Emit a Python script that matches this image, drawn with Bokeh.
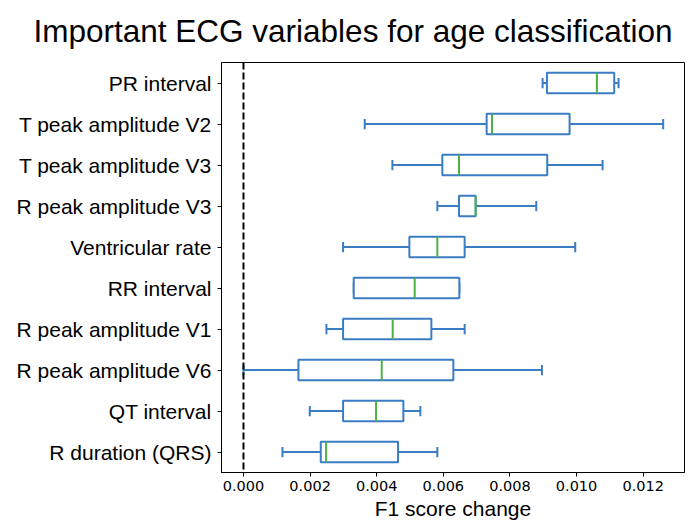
from bokeh.plotting import figure
from bokeh.models import ColumnDataSource, FactorRange, Range1d, Span, FixedTicker, NumeralTickFormatter
from bokeh.transform import dodge
from bokeh.embed import file_html
from bokeh.resources import INLINE

# Data (top to bottom)
categories = ["PR interval", "T peak amplitude V2", "T peak amplitude V3", "R peak amplitude V3",
              "Ventricular rate", "RR interval", "R peak amplitude V1", "R peak amplitude V6",
              "QT interval", "R duration (QRS)"]
whisker_low = [0.00898, 0.00364, 0.00447, 0.00582, 0.00299, 0.00331, 0.00249, 0.00000, 0.00199, 0.00117]
q1 = [0.00911, 0.00730, 0.00597, 0.00647, 0.00498, 0.00331, 0.00299, 0.00165, 0.00299, 0.00232]
median = [0.01061, 0.00746, 0.00647, 0.00697, 0.00582, 0.00514, 0.00448, 0.00415, 0.00398, 0.00248]
q3 = [0.01113, 0.00979, 0.00912, 0.00697, 0.00664, 0.00648, 0.00564, 0.00630, 0.00480, 0.00464]
whisker_high = [0.01126, 0.01260, 0.01078, 0.00879, 0.00996, 0.00648, 0.00664, 0.00896, 0.00531, 0.00582]
x_ticks = [0.000, 0.002, 0.004, 0.006, 0.008, 0.010, 0.012]
title_text = "Important ECG variables for age classification"

BLUE = "#3b7dc4"
GREEN = "#4db14a"
LABEL_FONT = "Liberation Sans"

src = ColumnDataSource(dict(cat=categories, lo=whisker_low, q1=q1, med=median, q3=q3, hi=whisker_high))

p = figure(width=700, height=528, output_backend="svg", toolbar_location=None,
           y_range=FactorRange(factors=list(reversed(categories))),
           x_range=Range1d(-0.00066, 0.01324),
           min_border_left=221, min_border_right=16, min_border_top=62, min_border_bottom=56)

p.title.text = title_text
p.title.text_font = LABEL_FONT
p.title.text_font_size = "31.5px"
p.title.text_font_style = "normal"
p.title.text_color = "black"
p.title.align = "left"
p.title.vertical_align = "top"
p.title.offset = -188
p.title.standoff = 24

p.background_fill_color = "white"
p.border_fill_color = "white"
p.outline_line_color = "black"
p.outline_line_width = 1
p.xgrid.grid_line_color = None
p.ygrid.grid_line_color = None

# zero reference line
p.add_layout(Span(location=0, dimension="height", line_color="black", line_width=2, line_dash="7 3"))

# whiskers
p.segment(x0="lo", x1="q1", y0="cat", y1="cat", source=src, line_color=BLUE, line_width=2)
p.segment(x0="q3", x1="hi", y0="cat", y1="cat", source=src, line_color=BLUE, line_width=2)
# caps
p.segment(x0="lo", x1="lo", y0=dodge("cat", -0.125, range=p.y_range), y1=dodge("cat", 0.125, range=p.y_range),
          source=src, line_color=BLUE, line_width=2)
p.segment(x0="hi", x1="hi", y0=dodge("cat", -0.125, range=p.y_range), y1=dodge("cat", 0.125, range=p.y_range),
          source=src, line_color=BLUE, line_width=2)
# boxes
p.hbar(y="cat", left="q1", right="q3", height=0.5, source=src, fill_color="white",
       line_color=BLUE, line_width=2)
# medians
p.segment(x0="med", x1="med", y0=dodge("cat", -0.25, range=p.y_range), y1=dodge("cat", 0.25, range=p.y_range),
          source=src, line_color=GREEN, line_width=2)

# axes
p.xaxis.ticker = FixedTicker(ticks=x_ticks)
p.xaxis.formatter = NumeralTickFormatter(format="0.000")
p.xaxis.major_label_text_font = "DejaVu Sans"
p.xaxis.major_label_text_font_size = "14.5px"
p.xaxis.major_label_text_color = "black"
p.xaxis.major_label_standoff = 4
p.xaxis.axis_label = "F1 score change"
p.xaxis.axis_label_text_font = LABEL_FONT
p.xaxis.axis_label_text_font_size = "21px"
p.xaxis.axis_label_text_font_style = "normal"
p.xaxis.axis_label_text_color = "black"
p.xaxis.axis_label_standoff = 3
p.xaxis.minor_tick_line_color = None

for ax in (p.xaxis, p.yaxis):
    ax.axis_line_color = "black"
    ax.axis_line_width = 1
    ax.major_tick_line_color = "black"
    ax.major_tick_in = 0
    ax.major_tick_out = 4

p.yaxis.major_label_text_font = LABEL_FONT
p.yaxis.major_label_text_font_size = "21px"
p.yaxis.major_label_text_color = "black"
p.yaxis.major_label_standoff = 6

open("out.html", "w").write(file_html(p, INLINE))
